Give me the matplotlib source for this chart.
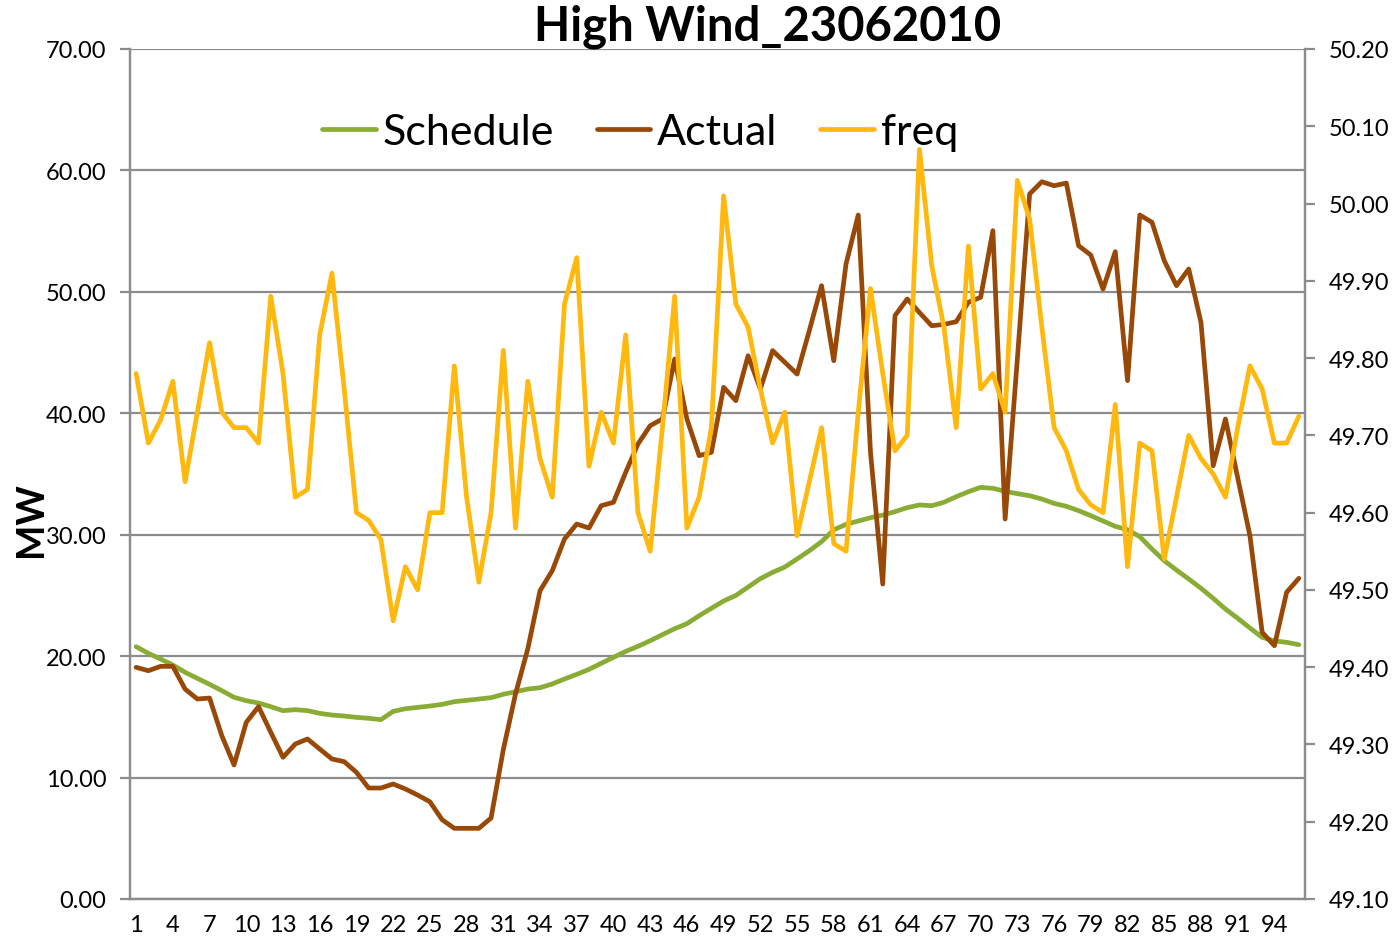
import numpy as np
import matplotlib
matplotlib.use("Agg")
import matplotlib.pyplot as plt
from matplotlib.ticker import FormatStrFormatter

plt.rcParams['font.family'] = ['Lato', 'DejaVu Sans']

TITLE = "High Wind_23062010"
periods = np.arange(1, 97)

schedule = [20.78, 20.23, 19.76, 19.27, 18.67, 18.17, 17.68, 17.16, 16.61, 16.33,
            16.14, 15.84, 15.51, 15.59, 15.51, 15.29, 15.15, 15.07, 14.96, 14.88,
            14.77, 15.45, 15.67, 15.78, 15.89, 16.03, 16.25, 16.36, 16.47, 16.58,
            16.86, 17.07, 17.29, 17.40, 17.71, 18.12, 18.50, 18.91, 19.41, 19.90,
            20.39, 20.81, 21.27, 21.77, 22.26, 22.67, 23.33, 23.94, 24.54, 25.00,
            25.69, 26.38, 26.90, 27.34, 28.00, 28.68, 29.43, 30.41, 30.85, 31.13,
            31.40, 31.62, 31.90, 32.23, 32.45, 32.39, 32.67, 33.13, 33.54, 33.90,
            33.82, 33.57, 33.38, 33.21, 32.94, 32.58, 32.34, 31.98, 31.57, 31.13,
            30.69, 30.41, 29.84, 28.82, 27.86, 27.09, 26.35, 25.59, 24.76, 23.88,
            23.12, 22.32, 21.55, 21.25, 21.14, 20.94]

actual = [19.08, 18.80, 19.16, 19.16, 17.29, 16.47, 16.55, 13.45, 11.04, 14.55,
          15.84, 13.73, 11.67, 12.76, 13.18, 12.35, 11.53, 11.31, 10.43, 9.14,
          9.14, 9.47, 9.06, 8.56, 8.01, 6.53, 5.82, 5.82, 5.82, 6.67,
          12.3, 16.9, 20.6, 25.39, 27.04, 29.65, 30.88, 30.55, 32.39, 32.67,
          35.14, 37.47, 38.98, 39.53, 44.47, 39.53, 36.51, 36.79, 42.14, 41.04,
          44.74, 42.00, 45.16, 44.20, 43.23, 46.80, 50.51, 44.33, 52.29, 56.33,
          36.78, 25.94, 48.04, 49.41, 48.30, 47.21, 47.32, 47.54, 49.14, 49.55,
          55.04, 31.29, 44.50, 58.06, 59.07, 58.74, 58.96, 53.80, 53.03, 50.23,
          53.31, 42.69, 56.33, 55.73, 52.57, 50.51, 51.88, 47.49, 35.68, 39.53,
          34.70, 29.92, 21.96, 20.86, 25.26, 26.41]

freq = [49.78, 49.69, 49.72, 49.77, 49.64, 49.73, 49.82, 49.73, 49.71, 49.71,
        49.69, 49.88, 49.78, 49.62, 49.63, 49.83, 49.91, 49.76, 49.60, 49.59,
        49.565, 49.46, 49.53, 49.50, 49.60, 49.60, 49.79, 49.62, 49.51, 49.60,
        49.81, 49.58, 49.77, 49.67, 49.62, 49.87, 49.93, 49.66, 49.73, 49.69,
        49.83, 49.60, 49.55, 49.71, 49.88, 49.58, 49.62, 49.71, 50.01, 49.87,
        49.84, 49.76, 49.69, 49.73, 49.57, 49.64, 49.71, 49.56, 49.55, 49.73,
        49.89, 49.78, 49.68, 49.70, 50.07, 49.92, 49.84, 49.71, 49.945, 49.76,
        49.78, 49.73, 50.03, 49.98, 49.84, 49.71, 49.68, 49.63, 49.61, 49.60,
        49.74, 49.53, 49.69, 49.68, 49.54, 49.62, 49.70, 49.67, 49.65, 49.62,
        49.71, 49.79, 49.76, 49.69, 49.69, 49.725]

mw_ticks = np.arange(0, 71, 10)
hz_ticks = np.round(np.arange(49.10, 50.21, 0.10), 2)
x_ticks = np.arange(1, 97, 3)

GREEN = "#88AC34"
BROWN = "#984807"
GOLD = "#FFB80D"
GRID = "#8C8C8C"

fig = plt.figure(figsize=(14, 9.45), dpi=100)
ax = fig.add_axes([130 / 1400, 1 - 900 / 945, 1175 / 1400, 850 / 945])
ax2 = ax.twinx()

l1, = ax.plot(periods, schedule, color=GREEN, lw=3.4, solid_joinstyle="round",
              solid_capstyle="round", label="Schedule")
l2, = ax.plot(periods, actual, color=BROWN, lw=3.4, solid_joinstyle="round",
              solid_capstyle="round", label="Actual")
l3, = ax2.plot(periods, freq, color=GOLD, lw=3.4, solid_joinstyle="round",
               solid_capstyle="round", label="freq")

ax.set_xlim(0.5, 96.5)
ax.set_ylim(0, 70)
ax2.set_ylim(49.10, 50.20)
ax.set_yticks(mw_ticks)
ax2.set_yticks(hz_ticks)
ax.set_xticks(x_ticks)
ax.yaxis.set_major_formatter(FormatStrFormatter("%.2f"))
ax2.yaxis.set_major_formatter(FormatStrFormatter("%.2f"))

ax.grid(True, axis="y", color=GRID, lw=1.6)
ax.set_axisbelow(True)
for a in (ax, ax2):
    for s in a.spines.values():
        s.set_color(GRID)
        s.set_linewidth(1.6)
    a.spines["top"].set_visible(False)
ax.tick_params(axis="y", labelsize=17, color=GRID, width=1.6, length=7, pad=10)
ax2.tick_params(axis="y", labelsize=17, color=GRID, width=1.6, length=7, pad=10)
ax.tick_params(axis="x", labelsize=17, length=0, pad=11)

ax.set_ylabel("MW", fontsize=27, fontweight="bold")
ax.yaxis.set_label_coords(-0.07, (900 - 520) / 850)
fig.text(768 / 1400, 1 - 27 / 945, TITLE, ha="center", va="center",
         fontsize=34, fontweight="bold")

ax2.legend(handles=[l1, l2, l3], loc="center",
           bbox_to_anchor=(640 / 1400, 1 - 133 / 945),
           bbox_transform=fig.transFigure, frameon=False, fontsize=31, ncol=3,
           handlelength=1.25, handletextpad=0.15, columnspacing=1.0)

fig.savefig("out.png", dpi=100)
